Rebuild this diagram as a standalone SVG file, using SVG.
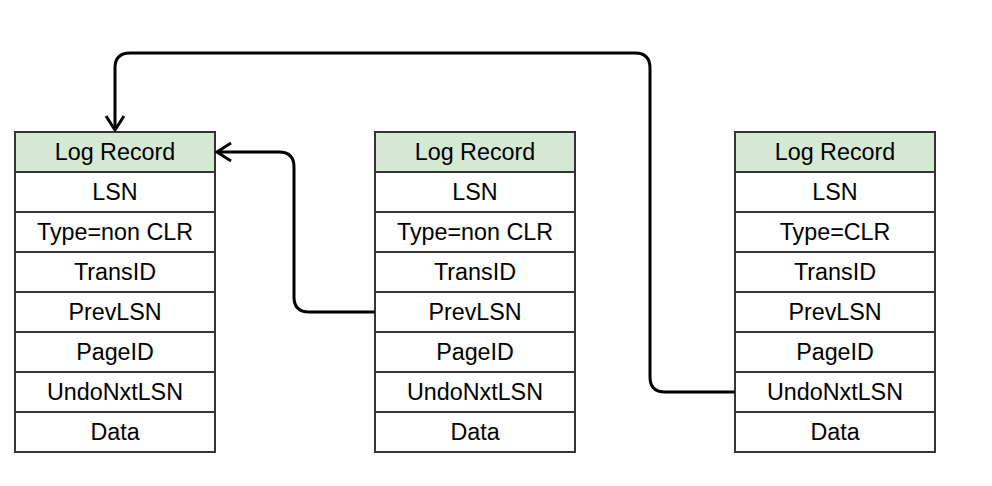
<svg xmlns="http://www.w3.org/2000/svg" width="992" height="486" viewBox="0 0 992 486">
<style>
.cell{fill:#ffffff;stroke:#333333;stroke-width:2}
.hdr{fill:#d5e8d4;stroke:#333333;stroke-width:2}
text{font-family:"Liberation Sans",Arial,sans-serif;font-size:23.3px;fill:#000;text-anchor:middle}
.conn{fill:none;stroke:#000;stroke-width:3}
</style>
<defs>
<marker id="arr" markerUnits="userSpaceOnUse" viewBox="-20 -12 24 24" markerWidth="24" markerHeight="24" refX="0" refY="0" orient="auto">
<path d="M-14,-9 L0,0 L-14,9" fill="none" stroke="#000" stroke-width="3" stroke-linejoin="miter"/>
</marker>
</defs>
<rect width="992" height="486" fill="#ffffff"/>
<g id="rec1">
<rect class="hdr" x="15" y="132" width="200" height="40"/>
<rect class="cell" x="15" y="172" width="200" height="40"/>
<rect class="cell" x="15" y="212" width="200" height="40"/>
<rect class="cell" x="15" y="252" width="200" height="40"/>
<rect class="cell" x="15" y="292" width="200" height="40"/>
<rect class="cell" x="15" y="332" width="200" height="40"/>
<rect class="cell" x="15" y="372" width="200" height="40"/>
<rect class="cell" x="15" y="412" width="200" height="40"/>
<text x="115" y="160">Log Record</text>
<text x="115" y="200">LSN</text>
<text x="115" y="240">Type=non CLR</text>
<text x="115" y="280">TransID</text>
<text x="115" y="320">PrevLSN</text>
<text x="115" y="360">PageID</text>
<text x="115" y="400">UndoNxtLSN</text>
<text x="115" y="440">Data</text>
</g>
<g id="rec2">
<rect class="hdr" x="375" y="132" width="200" height="40"/>
<rect class="cell" x="375" y="172" width="200" height="40"/>
<rect class="cell" x="375" y="212" width="200" height="40"/>
<rect class="cell" x="375" y="252" width="200" height="40"/>
<rect class="cell" x="375" y="292" width="200" height="40"/>
<rect class="cell" x="375" y="332" width="200" height="40"/>
<rect class="cell" x="375" y="372" width="200" height="40"/>
<rect class="cell" x="375" y="412" width="200" height="40"/>
<text x="475" y="160">Log Record</text>
<text x="475" y="200">LSN</text>
<text x="475" y="240">Type=non CLR</text>
<text x="475" y="280">TransID</text>
<text x="475" y="320">PrevLSN</text>
<text x="475" y="360">PageID</text>
<text x="475" y="400">UndoNxtLSN</text>
<text x="475" y="440">Data</text>
</g>
<g id="rec3">
<rect class="hdr" x="735" y="132" width="200" height="40"/>
<rect class="cell" x="735" y="172" width="200" height="40"/>
<rect class="cell" x="735" y="212" width="200" height="40"/>
<rect class="cell" x="735" y="252" width="200" height="40"/>
<rect class="cell" x="735" y="292" width="200" height="40"/>
<rect class="cell" x="735" y="332" width="200" height="40"/>
<rect class="cell" x="735" y="372" width="200" height="40"/>
<rect class="cell" x="735" y="412" width="200" height="40"/>
<text x="835" y="160">Log Record</text>
<text x="835" y="200">LSN</text>
<text x="835" y="240">Type=CLR</text>
<text x="835" y="280">TransID</text>
<text x="835" y="320">PrevLSN</text>
<text x="835" y="360">PageID</text>
<text x="835" y="400">UndoNxtLSN</text>
<text x="835" y="440">Data</text>
</g>
<g id="connectors">
<path class="conn" d="M375,312 H309 Q294,312 294,297 V167 Q294,152 279,152 H217" marker-end="url(#arr)"/>
<path class="conn" d="M735,392 H665 Q650,392 650,377 V68 Q650,53 635,53 H130 Q115,53 115,68 V130" marker-end="url(#arr)"/>
</g>
</svg>
